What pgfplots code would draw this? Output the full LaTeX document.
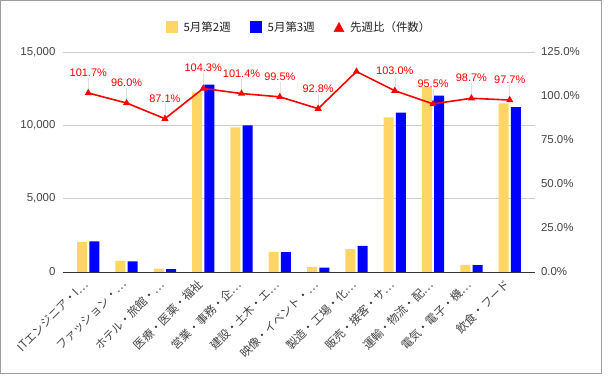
\documentclass[border=0pt]{standalone}
\usepackage{pgfplots}
\pgfplotsset{compat=1.18}
\usepackage{fontspec}
\setmainfont{Liberation Sans}
\newfontfamily\jp{Noto Sans CJK JP}
\definecolor{ylw}{HTML}{FFD666}
\definecolor{blu}{HTML}{0000FF}
\definecolor{rd}{HTML}{FF0000}
\definecolor{txt}{HTML}{444444}
\definecolor{txtd}{HTML}{222222}
\definecolor{grd}{HTML}{CCCCCC}
\definecolor{brd}{HTML}{9E9E9E}
\begin{document}
\begin{tikzpicture}
\useasboundingbox (0,0) rectangle (609bp,378bp);
\draw[brd, line width=1bp] (0.5bp,377bp) rectangle (601.3bp,4.3bp);
\begin{axis}[
  at={(63bp,106bp)}, anchor=south west, scale only axis,
  width=472bp, height=220bp,
  xmin=-0.66, xmax=11.66, ymin=0, ymax=15000,
  ybar=2.3bp, bar width=10bp,
  axis x line*=bottom, axis y line*=left,
  y axis line style={draw=none},
  x axis line style={color=black!80, line width=1bp},
  ytick={0,5000,10000,15000}, ymajorgrids, grid style={grd, line width=0.8bp},
  major tick length=0,
  scaled y ticks=false,
  yticklabel style={font=\fontsize{11.5}{12}\selectfont, color=txt, xshift=-4bp},
  xtick={0,...,11},
  xticklabels={ITエンジニア・I…,ファッション・…,ホテル・旅館・…,医療・医薬・福祉,営業・事務・企…,建設・土木・エ…,映像・イベント・…,製造・工場・化…,販売・接客・サ…,運輸・物流・配…,電気・電子・機…,飲食・フード},
  xticklabel shift=8bp,
  x tick label style={font=\jp\fontsize{11.5}{12}\selectfont, color=txt, rotate=45, anchor=east},
  legend style={at={(0.5,1.1136)}, anchor=center, draw=none, fill=none, legend columns=3,
    font=\jp\fontsize{11.5}{12}\selectfont, text=txtd,
    /tikz/every odd column/.append style={column sep=4bp},
    /tikz/every even column/.append style={column sep=17bp}},
  /pgf/number format/1000 sep={,},
  /pgf/number format/assume math mode=true,
]
\addplot[fill=ylw, draw=none, legend image code/.code={\fill[ylw] (0bp,-6bp) rectangle (12bp,6bp);}]
  coordinates {(0,2050) (1,750) (2,230) (3,12250) (4,9860) (5,1370) (6,330) (7,1560) (8,10550) (9,12600) (10,480) (11,11500)};
\addlegendentry{5月第2週}
\addplot[fill=blu, draw=none, legend image code/.code={\fill[blu] (0bp,-6bp) rectangle (12bp,6bp);}]
  coordinates {(0,2085) (1,720) (2,200) (3,12777) (4,9998) (5,1363) (6,306) (7,1777) (8,10867) (9,12033) (10,474) (11,11236)};
\addlegendentry{5月第3週}
\addlegendimage{legend image code/.code={\fill[rd] (0bp,-4.6bp) -- (10bp,-4.6bp) -- (5bp,4.6bp) -- cycle;}}
\addlegendentry{先週比（件数）}
\end{axis}
\begin{axis}[
  at={(63bp,106bp)}, anchor=south west, scale only axis,
  width=472bp, height=220bp,
  xmin=-0.66, xmax=11.66, ymin=0, ymax=125,
  axis x line=none, axis y line*=right,
  y axis line style={draw=none},
  ytick={0,25,50,75,100,125},
  major tick length=0,
  yticklabel={\pgfmathprintnumber[fixed,fixed zerofill,precision=1]{\tick}\%},
  yticklabel style={font=\fontsize{11.5}{12}\selectfont, color=txt, xshift=2.5bp},
  /pgf/number format/assume math mode=true,
  clip=false,
]
\addplot[draw=none, mark=none,
  nodes near coords={\pgfmathprintnumber[fixed,fixed zerofill,precision=1]{\pgfplotspointmeta}\%},
  every node near coord/.append style={font=\fontsize{11}{12}\selectfont, color=rd, anchor=base, yshift=16.5bp, inner sep=0pt},
  error bars/.cd, y dir=plus, y fixed=8.5, error mark=none,
  error bar style={draw=black!12, line width=0.5bp}]
  coordinates {(0,101.7) (1,96.0) (2,87.1) (3,104.3) (4,101.4) (5,99.5) (6,92.8) (8,103.0) (9,95.5) (10,98.7) (11,97.7)};
\addplot[rd, line width=1.6bp, mark=triangle*, mark size=2.6bp, mark options={solid, fill=rd}]
  coordinates {(0,101.7) (1,96.0) (2,87.1) (3,104.3) (4,101.4) (5,99.5) (6,92.8) (7,113.9) (8,103.0) (9,95.5) (10,98.7) (11,97.7)};
\end{axis}
\end{tikzpicture}
\end{document}
